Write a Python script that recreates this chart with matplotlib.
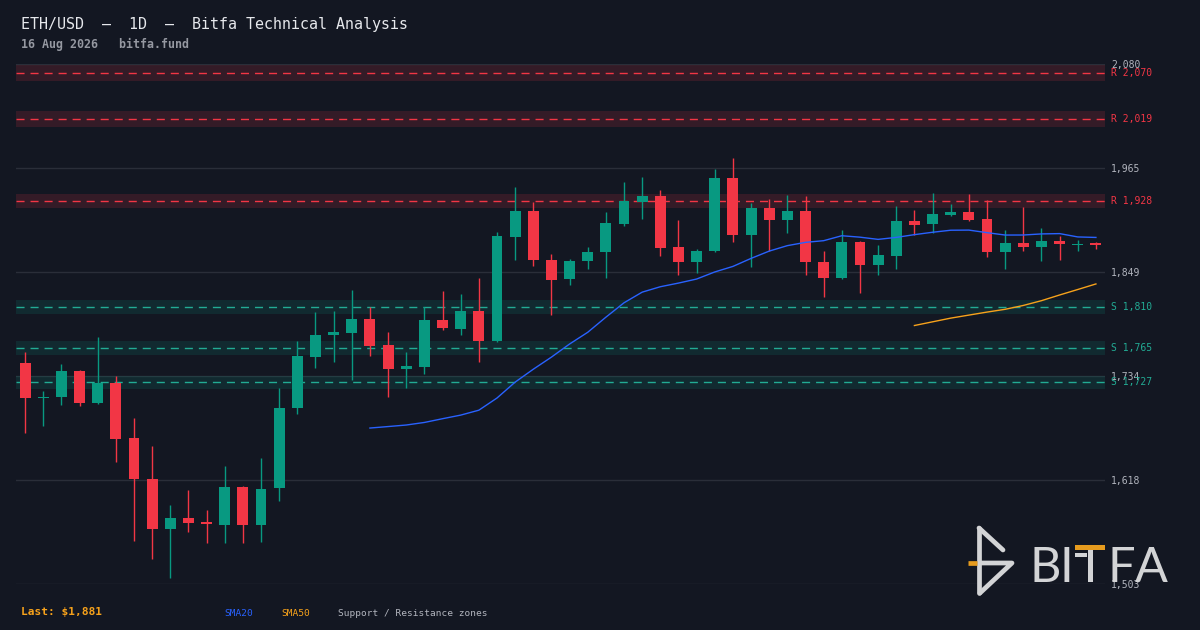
import numpy as np
import pandas as pd
import matplotlib
matplotlib.use("Agg")
import matplotlib.pyplot as plt
from matplotlib.patches import Rectangle

# daily candles
opens = [1748, 1709, 1710, 1739, 1704, 1726, 1665, 1619, 1564, 1576,
         1572, 1569, 1611, 1569, 1609, 1698, 1755, 1779, 1782, 1797,
         1768, 1742, 1744, 1796, 1786, 1806, 1773, 1888, 1917, 1862,
         1841, 1861, 1871, 1903, 1927, 1934, 1877, 1860, 1872, 1954,
         1890, 1920, 1907, 1917, 1860, 1843, 1883, 1857, 1867, 1906,
         1902, 1913, 1916, 1908, 1871, 1881, 1877, 1884, 1879, 1881]
highs = [1760, 1717, 1747, 1740, 1777, 1734, 1687, 1656, 1591, 1607,
         1585, 1634, 1612, 1643, 1720, 1773, 1805, 1806, 1829, 1810,
         1783, 1760, 1810, 1828, 1825, 1843, 1894, 1943, 1927, 1869,
         1864, 1877, 1916, 1949, 1955, 1940, 1907, 1875, 1964, 1976,
         1926, 1930, 1935, 1934, 1873, 1896, 1884, 1879, 1922, 1918,
         1937, 1925, 1936, 1929, 1896, 1921, 1898, 1889, 1885, 1882]
lows = [1670, 1678, 1702, 1701, 1703, 1638, 1551, 1531, 1510, 1561,
        1548, 1549, 1549, 1550, 1595, 1692, 1743, 1749, 1729, 1756,
        1711, 1721, 1736, 1785, 1779, 1749, 1771, 1863, 1856, 1802,
        1835, 1852, 1842, 1900, 1908, 1867, 1846, 1848, 1871, 1882,
        1855, 1873, 1892, 1846, 1821, 1841, 1826, 1846, 1853, 1890,
        1892, 1911, 1906, 1866, 1852, 1873, 1861, 1862, 1873, 1875]
closes = [1709, 1711, 1739, 1704, 1726, 1664, 1619, 1564, 1576, 1571,
          1570, 1611, 1569, 1608, 1698, 1756, 1779, 1783, 1797, 1767,
          1742, 1745, 1796, 1787, 1806, 1773, 1889, 1917, 1862, 1840,
          1861, 1871, 1904, 1928, 1934, 1876, 1860, 1873, 1954, 1890,
          1920, 1907, 1917, 1860, 1843, 1883, 1857, 1868, 1906, 1901,
          1914, 1916, 1907, 1871, 1881, 1877, 1884, 1880, 1880, 1879]

resistance = [2070, 2019, 1928]
support = [1810, 1765, 1727]
last_price = 1881

BG = "#131722"
UP = "#089981"
DOWN = "#f23645"
S_COL = "#22ab94"
GRID = "#2a2e39"
TXT = "#b2b5be"
MONO = "DejaVu Sans Mono"
ZONE = 0.0042
DASH = (0, (5.8, 4.3))

df = pd.DataFrame({"o": opens, "h": highs, "l": lows, "c": closes})
df["sma20"] = df["c"].rolling(20).mean()
df["sma50"] = df["c"].rolling(50).mean()
x = np.arange(len(df))
up = df["c"] >= df["o"]
colors = np.where(up, UP, DOWN)

fig = plt.figure(figsize=(12, 6.3), dpi=100, facecolor=BG)
ax = fig.add_axes([16 / 1200, 1 - 584 / 630, 1089 / 1200, 520 / 630])
ax.set_facecolor(BG)

ylo, yhi = 1503, 2080
ax.set_ylim(ylo, yhi)
ax.set_xlim(-0.5, 59.5)
ticks = np.linspace(ylo, yhi, 6)
ax.set_yticks(ticks)
ax.set_yticklabels([f"{t:,.0f}" for t in ticks])
ax.yaxis.tick_right()
ax.tick_params(axis="y", length=0, pad=4.5, labelsize=7, labelcolor=TXT)
ax.tick_params(axis="x", length=0, labelbottom=False)
for lab in ax.get_yticklabels():
    lab.set_fontfamily(MONO)
ax.grid(axis="y", color=GRID, lw=1)
ax.set_axisbelow(True)
for s in ax.spines.values():
    s.set_visible(False)

# zones
tr = ax.get_yaxis_transform()
for p in resistance:
    ax.axhspan(p * (1 - ZONE), p * (1 + ZONE), color=DOWN, alpha=0.15, lw=0, zorder=1)
    ax.axhline(p, color=DOWN, lw=1, ls=DASH, zorder=1.5)
    ax.text(1.0055, p, f"R {p:,}", transform=tr, color=DOWN, fontsize=7,
            family=MONO, va="center", ha="left")
for p in support:
    ax.axhspan(p * (1 - ZONE), p * (1 + ZONE), color=UP, alpha=0.15, lw=0, zorder=1)
    ax.axhline(p, color=S_COL, lw=1, ls=DASH, zorder=1.5)
    ax.text(1.0055, p, f"S {p:,}", transform=tr, color=S_COL, fontsize=7,
            family=MONO, va="center", ha="left")

# candles
ax.vlines(x, df["l"], df["h"], colors=colors, lw=1, zorder=3)
body = (df["c"] - df["o"]).abs().clip(lower=1.5)
bottom = df[["o", "c"]].min(axis=1)
ax.bar(x, body, bottom=bottom, width=0.6, color=colors, lw=0, zorder=4)

ax.plot(x, df["sma20"], color="#2962ff", lw=1, zorder=5)
ax.plot(x, df["sma50"], color="#f7a21b", lw=1, zorder=5)

# header / footer
fig.text(21 / 1200, 1 - 24 / 630, "ETH/USD  \u2013  1D  \u2013  Bitfa Technical Analysis",
         color="#e6e8ec", fontsize=10.8, family=MONO, va="center")
fig.text(21 / 1200, 1 - 44 / 630, "16 Aug 2026   bitfa.fund",
         color="#9598a1", fontsize=8.4, family=MONO, weight="bold", va="center")
fig.text(21 / 1200, 1 - 612 / 630, f"Last: ${last_price:,}",
         color="#f7a21b", fontsize=8, family=MONO, weight="bold", va="center")
fig.text(224 / 1200, 1 - 614 / 630, "SMA20", color="#2962ff", fontsize=6.8,
         family=MONO, va="center")
fig.text(281 / 1200, 1 - 614 / 630, "SMA50", color="#f7a21b", fontsize=6.8,
         family=MONO, va="center")
fig.text(338 / 1200, 1 - 614 / 630, "Support / Resistance zones", color=TXT,
         fontsize=6.8, family=MONO, va="center")

# watermark logo
lg = fig.add_axes([0, 0, 1, 1], zorder=10)
lg.set_xlim(0, 1200)
lg.set_ylim(630, 0)
lg.axis("off")
lg.patch.set_alpha(0)
LOGO = "#d3d4d6"
ORANGE = "#e69b1e"
kw = dict(color=LOGO, lw=3.4, solid_capstyle="round", solid_joinstyle="round")
lg.plot([979, 979], [528, 593], **kw)
lg.plot([979, 1003], [528, 550], **kw)
lg.plot([981, 1012, 980], [563, 563, 593], **kw)
lg.plot([968, 977], [563, 563], color=ORANGE, lw=3.4, solid_capstyle="butt")
for ch, lx in [("B", 1029), ("I", 1059), ("F", 1108), ("A", 1135)]:
    lg.text(lx, 582, ch, color=LOGO, fontsize=35, family="Lato",
            va="baseline", ha="left")
lg.add_patch(Rectangle((1088, 549), 5, 33, color=LOGO, lw=0))
lg.add_patch(Rectangle((1075, 553), 12, 4, color=LOGO, lw=0))
lg.add_patch(Rectangle((1075, 545), 30, 4.5, color=ORANGE, lw=0))

fig.savefig("out.png", dpi=100, facecolor=BG)
